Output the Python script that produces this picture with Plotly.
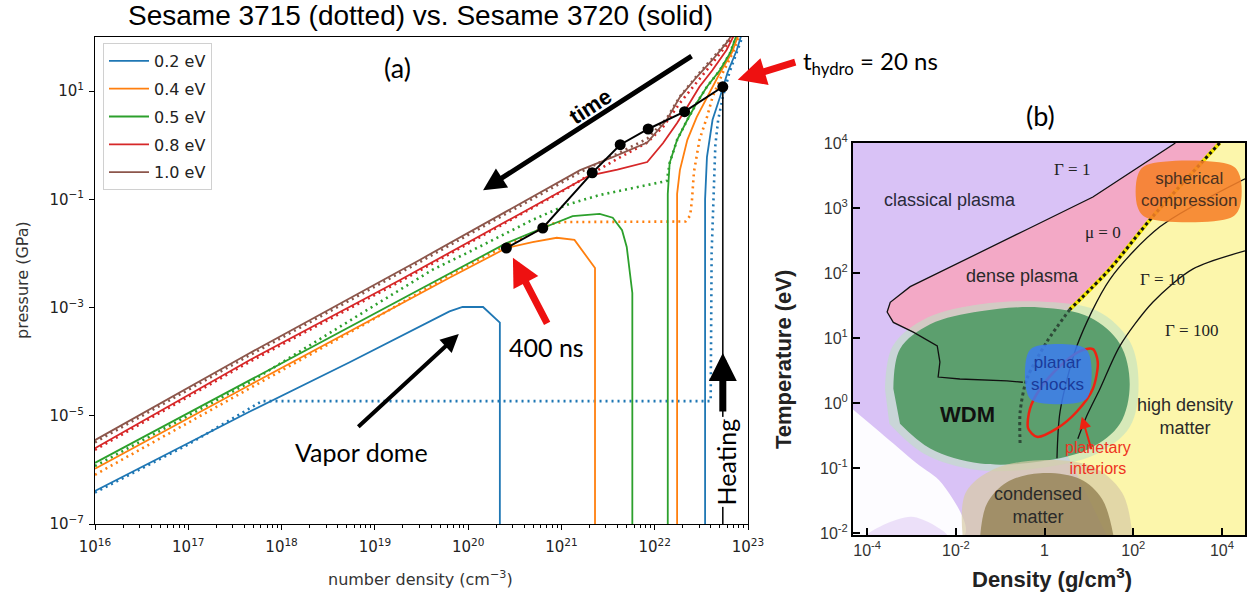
import numpy as np
import plotly.graph_objects as go

W, H = 1248, 596

# ------------------------------------------------------------------
# Panel (a) data : log10 number density (cm^-3) vs log10 pressure (GPa)
# ------------------------------------------------------------------
temps = ["0.2 eV", "0.4 eV", "0.5 eV", "0.8 eV", "1.0 eV"]
colors = ["#1f77b4", "#ff7f0e", "#2ca02c", "#d62728", "#8c564b"]

# Sesame 3720 (solid) - vapour branch and dense branch
t02_gas_n = [16.0, 17.0, 17.66, 18.73, 19.27, 19.6, 19.80, 19.94, 20.16, 20.34, 20.34]
t02_gas_p = [-6.39, -5.50, -4.92, -4.01, -3.54, -3.24, -3.07, -2.99, -2.99, -3.28, -7.5]
t02_liq_n = [22.54, 22.54, 22.56, 22.62, 22.70, 22.78, 22.88, 22.94]
t02_liq_p = [-7.5, -1.0, -0.22, 0.47, 0.89, 1.34, 1.76, 2.1]

t04_gas_n = [16.0, 17.66, 19.80, 20.41, 20.69, 20.95, 21.14, 21.36, 21.36]
t04_gas_p = [-5.98, -4.43, -2.45, -1.90, -1.79, -1.71, -1.75, -2.27, -7.5]
t04_liq_n = [22.24, 22.24, 22.27, 22.35, 22.45, 22.56, 22.70, 22.83, 22.91]
t04_liq_p = [-7.5, -0.9, -0.46, 0.10, 0.52, 0.89, 1.34, 1.72, 2.1]

t05_gas_n = [16.0, 17.66, 20.41, 20.80, 20.95, 21.12, 21.41, 21.55, 21.65, 21.70, 21.76, 21.76]
t05_gas_p = [-5.87, -4.34, -1.81, -1.53, -1.42, -1.31, -1.27, -1.34, -1.57, -1.88, -2.73, -7.5]
t05_liq_n = [22.14, 22.14, 22.16, 22.24, 22.35, 22.45, 22.56, 22.70, 22.81, 22.89]
t05_liq_p = [-7.5, -0.9, -0.33, 0.10, 0.47, 0.78, 1.08, 1.39, 1.71, 2.1]

t08_n = [16.0, 17.66, 19.27, 21.02, 21.30, 21.60, 21.92, 22.09, 22.24, 22.35, 22.48, 22.62, 22.77, 22.87]
t08_p = [-5.60, -3.97, -2.49, -0.83, -0.56, -0.45, -0.31, 0.04, 0.41, 0.71, 1.08, 1.39, 1.76, 2.1]

t10_n = [16.0, 17.66, 19.48, 21.20, 21.55, 21.92, 22.13, 22.27, 22.45, 22.62, 22.77, 22.85]
t10_p = [-5.45, -3.84, -2.12, -0.46, -0.22, 0.05, 0.47, 0.89, 1.26, 1.58, 1.89, 2.1]

# Sesame 3715 (dotted)
d02_n = [16.0, 17.0, 17.79, 22.60, 22.61, 22.63, 22.65, 22.68, 22.73, 22.80, 22.89, 22.96]
d02_p = [-6.42, -5.53, -4.73, -4.73, -2.0, -0.8, 0.0, 0.47, 0.89, 1.34, 1.76, 2.1]

d04_n = [16.0, 17.66, 19.00, 19.80, 20.41, 20.90, 21.02, 22.33, 22.38, 22.40, 22.42, 22.48, 22.56, 22.62, 22.73, 22.84, 22.92]
d04_p = [-6.09, -4.49, -3.20, -2.40, -1.85, -1.45, -1.42, -1.41, -1.30, -1.00, -0.50, 0.10, 0.52, 0.89, 1.34, 1.72, 2.1]

d05_n = [16.0, 17.66, 19.27, 19.62, 19.99, 20.34, 20.69, 21.06, 21.41, 21.77, 22.13, 22.16, 22.24, 22.35, 22.45, 22.56, 22.70, 22.81, 22.89]
d05_p = [-5.93, -4.38, -2.67, -2.30, -1.99, -1.69, -1.38, -1.10, -0.92, -0.79, -0.66, -0.33, 0.10, 0.47, 0.78, 1.08, 1.39, 1.71, 2.1]

d08_n = [16.0, 17.66, 19.27, 21.02, 21.30, 21.60, 21.92, 22.09, 22.27, 22.45, 22.62, 22.77, 22.86]
d08_p = [-5.63, -4.00, -2.52, -0.84, -0.55, -0.25, 0.05, 0.34, 0.78, 1.15, 1.52, 1.85, 2.1]

d10_n = [16.0, 17.66, 19.48, 21.20, 21.55, 21.92, 22.13, 22.27, 22.45, 22.62, 22.77, 22.85]
d10_p = [-5.49, -3.88, -2.16, -0.50, -0.20, 0.12, 0.50, 0.90, 1.28, 1.60, 1.90, 2.1]

# hydro trajectory (400 ns ... 20 ns)
traj_n = [20.41, 20.80, 21.33, 21.63, 21.93, 22.32, 22.73]
traj_p = [-1.90, -1.53, -0.51, 0.01, 0.30, 0.62, 1.08]
heat_n = [22.73, 22.73]
heat_p = [1.08, -7.0]

# ticks (a)
xa_exp = list(range(16, 24))
ya_exp = [-7, -5, -3, -1, 1]

# ------------------------------------------------------------------
# Panel (b) data : log10 density (g/cm3) vs log10 temperature (eV)
# ------------------------------------------------------------------
g1_rho = [2.95, 1.09, -0.40, -1.91, -3.03, -3.48, -3.55, -3.41, -2.96, -2.42, -2.36, -2.40, -1.91, -0.85, -0.49]
g1_T = [4.0, 3.17, 2.67, 2.16, 1.79, 1.55, 1.40, 1.24, 1.09, 0.88, 0.63, 0.40, 0.37, 0.34, 0.32]
mu_top_rho = [3.95, 2.44, 1.47, 0.57]
mu_top_T = [4.0, 2.87, 2.06, 1.44]
mu_low_rho = [0.57, 0.05, -0.40, -0.55, -0.55]
mu_low_T = [1.44, 0.94, 0.37, -0.13, -0.66]
g10_rho = [4.52, 2.60, 1.47, 0.73, 0.35, 0.28]
g10_T = [3.45, 2.71, 1.90, 0.88, -0.13, -0.85]
g100_rho = [4.52, 3.34, 2.44, 1.70, 1.25, 0.95, 0.75]
g100_T = [2.34, 2.06, 1.55, 0.88, 0.22, -0.20, -0.55]
ell_rho = [1.09, 1.20, 1.09, 0.73, 0.28, -0.17, -0.37, -0.33, -0.10, 0.35, 0.80, 1.09]
ell_T = [0.83, 0.63, 0.22, -0.13, -0.39, -0.52, -0.39, -0.09, 0.22, 0.57, 0.80, 0.83]

yel_rho = [3.95, 4.52, 4.52, 1.4, 0.3, 0.05, 0.57, 1.47, 2.44]
yel_T = [4.0, 4.0, -2.03, -2.03, -0.5, 0.94, 1.44, 2.06, 2.87]
pink_rho = [2.95, 1.09, -0.40, -1.91, -3.03, -3.48, -3.55, -3.41, -2.96, -2.42, -1.5, 0.3, 0.57, 1.47, 2.44, 3.95]
pink_T = [4.0, 3.17, 2.67, 2.16, 1.79, 1.55, 1.40, 1.24, 1.09, 0.88, 1.2, 1.2, 1.44, 2.06, 2.87, 4.0]
white_rho = [-4.32, -3.71, -2.90, -2.30, -1.80, -4.32]
white_T = [-0.10, -0.45, -0.92, -1.25, -2.03, -2.03]
lilac_rho = [-4.0, -3.0, -2.2, -2.5, -3.4, -4.0]
lilac_T = [-2.03, -1.75, -2.03, -2.03, -2.03, -2.03]
wdmh_rho = [-3.60, -3.42, -2.65, -1.45, -0.10, 1.18, 1.92, 2.12, 1.92, 1.18, -0.10, -1.52, -2.72, -3.50]
wdmh_T = [0.22, 0.88, 1.31, 1.52, 1.56, 1.42, 0.95, 0.29, -0.37, -0.78, -1.00, -1.03, -0.78, -0.32]
wdm_rho = [-3.41, -3.26, -2.58, -1.45, -0.10, 1.02, 1.70, 1.92, 1.70, 1.02, -0.10, -1.45, -2.58, -3.26]
wdm_T = [0.22, 0.83, 1.21, 1.41, 1.47, 1.32, 0.91, 0.29, -0.32, -0.70, -0.90, -0.93, -0.70, -0.32]
condh_rho = [-1.85, -1.78, -1.15, -0.10, 1.08, 1.75, 1.98]
condh_T = [-2.03, -1.38, -1.02, -0.88, -0.98, -1.38, -2.03]
cond_rho = [-1.45, -1.30, -0.85, -0.10, 0.80, 1.30, 1.55]
cond_T = [-2.03, -1.55, -1.22, -1.08, -1.17, -1.48, -2.03]
sph_rho = [2.10, 2.3, 4.2, 4.40, 4.40, 4.2, 2.3, 2.10, 2.10]
sph_T = [3.50, 3.66, 3.66, 3.50, 3.01, 2.85, 2.85, 3.01, 3.50]
pla_rho = [-0.40, -0.25, 0.87, 1.02, 1.02, 0.87, -0.25, -0.40, -0.40]
pla_T = [0.72, 0.86, 0.86, 0.72, 0.17, 0.03, 0.03, 0.17, 0.72]

xb_exp = [-4, -2, 0, 2, 4]
yb_exp = [-2, -1, 0, 1, 2, 3, 4]


def e(v):
    return np.power(10.0, np.asarray(v, dtype=float))


fig = go.Figure()

# ---------------------------- panel (a) traces ---------------------------
solid_sets = [
    [(t02_gas_n, t02_gas_p), (t02_liq_n, t02_liq_p)],
    [(t04_gas_n, t04_gas_p), (t04_liq_n, t04_liq_p)],
    [(t05_gas_n, t05_gas_p), (t05_liq_n, t05_liq_p)],
    [(t08_n, t08_p)],
    [(t10_n, t10_p)],
]
dotted_sets = [(d02_n, d02_p), (d04_n, d04_p), (d05_n, d05_p), (d08_n, d08_p), (d10_n, d10_p)]

for i, (lab, col) in enumerate(zip(temps, colors)):
    dn, dp = dotted_sets[i]
    fig.add_trace(go.Scatter(x=e(dn), y=e(dp), mode="lines", legendgroup=lab, showlegend=False,
                             line=dict(color=col, width=2.6, dash="2px,4px"), hoverinfo="skip",
                             xaxis="x", yaxis="y"))
for i, (lab, col) in enumerate(zip(temps, colors)):
    for j, (sn, sp) in enumerate(solid_sets[i]):
        fig.add_trace(go.Scatter(x=e(sn), y=e(sp), mode="lines", name=lab, legendgroup=lab,
                                 showlegend=(j == 0), line=dict(color=col, width=1.8),
                                 xaxis="x", yaxis="y"))

fig.add_trace(go.Scatter(x=e(heat_n), y=e(heat_p), mode="lines", showlegend=False,
                         line=dict(color="black", width=1.5), xaxis="x", yaxis="y"))
fig.add_trace(go.Scatter(x=e(traj_n), y=e(traj_p), mode="lines+markers", showlegend=False,
                         line=dict(color="black", width=2), marker=dict(color="black", size=11),
                         xaxis="x", yaxis="y"))

# ---------------------------- panel (b) traces ---------------------------
def region(rx, ry, color, spline=False):
    fig.add_trace(go.Scatter(x=e(rx), y=e(ry), mode="lines", fill="toself", fillcolor=color,
                             line=dict(width=0, shape="spline" if spline else "linear", smoothing=1.0),
                             showlegend=False, hoverinfo="skip", xaxis="x2", yaxis="y2"))


def curve(rx, ry, color, width, dash="solid", spline=True):
    fig.add_trace(go.Scatter(x=e(rx), y=e(ry), mode="lines",
                             line=dict(color=color, width=width, dash=dash,
                                       shape="spline" if spline else "linear", smoothing=0.8),
                             showlegend=False, hoverinfo="skip", xaxis="x2", yaxis="y2"))


region(yel_rho, yel_T, "#fcf6ab")
region(pink_rho, pink_T, "#f3a9c6")
region(white_rho, white_T, "rgba(255,255,255,0.95)", spline=True)
region(lilac_rho, lilac_T, "rgba(225,205,245,0.6)", spline=True)
region(wdmh_rho, wdmh_T, "rgba(190,225,195,0.6)", spline=True)
region(wdm_rho, wdm_T, "#5c9f6e", spline=True)
region(condh_rho, condh_T, "rgba(215,203,165,0.7)", spline=True)
region(cond_rho, cond_T, "rgba(145,127,80,0.78)", spline=True)

curve(g1_rho, g1_T, "#111111", 1.3, spline=False)
curve(mu_top_rho, mu_top_T, "#f2e600", 4, spline=True)
curve(mu_top_rho, mu_top_T, "#111111", 3, dash="3px,3px", spline=True)
curve(mu_low_rho, mu_low_T, "#2e4a38", 3, dash="3px,3px", spline=True)
curve(g10_rho, g10_T, "#111111", 1.3)
curve(g100_rho, g100_T, "#111111", 1.3)
curve(ell_rho, ell_T, "#ee2211", 2.5)

region(sph_rho, sph_T, "rgba(246,128,40,0.88)", spline=True)
region(pla_rho, pla_T, "rgba(60,125,240,0.85)", spline=True)

# ------------------------------ layout -----------------------------------
def px(x):
    return x / W


def py(y):
    return 1 - y / H


axis_font = dict(family="DejaVu Sans", size=15, color="#222")
sup_minus = "\u2212"

fig.update_layout(
    width=W, height=H, autosize=False,
    margin=dict(l=0, r=0, t=0, b=0, pad=0, autoexpand=False),
    paper_bgcolor="white", plot_bgcolor="white",
    showlegend=True,
    legend=dict(x=px(103), y=py(43), xanchor="left", yanchor="top",
                bgcolor="white", bordercolor="#d0d0d0", borderwidth=1,
                font=dict(family="DejaVu Sans", size=16, color="#222"),
                tracegroupgap=4, itemwidth=40),
    xaxis=dict(type="log", range=[16, 23], domain=[px(95), px(748)], anchor="y", automargin=False,
               showline=True, mirror=True, linecolor="black", linewidth=1,
               ticks="outside", ticklen=5, tickcolor="black", showgrid=False, zeroline=False,
               tickvals=e(xa_exp), ticktext=["10<sup>%d</sup>" % k for k in xa_exp],
               tickfont=axis_font, ticklabelstandoff=4,
               minor=dict(ticks="outside", ticklen=3, tickcolor="black", dtick="D1", showgrid=False)),
    yaxis=dict(type="log", range=[-7, 2], domain=[py(524), py(37)], anchor="x", automargin=False,
               showline=True, mirror=True, linecolor="black", linewidth=1,
               ticks="outside", ticklen=5, tickcolor="black", showgrid=False, zeroline=False,
               tickvals=e(ya_exp),
               ticktext=["10<sup>%s</sup>" % (str(k).replace("-", sup_minus)) for k in ya_exp],
               tickfont=axis_font, ticklabelstandoff=2),
    xaxis2=dict(type="log", range=[-4.32, 4.52], domain=[px(853), px(1245)], anchor="y2", automargin=False,
                showline=True, mirror=True, linecolor="black", linewidth=2,
                ticks="inside", ticklen=7, tickwidth=2, tickcolor="black",
                showgrid=False, zeroline=False,
                tickvals=e(xb_exp),
                ticktext=["1" if k == 0 else "10<sup>%d</sup>" % k for k in xb_exp],
                tickfont=dict(family="Liberation Sans", size=16, color="#333")),
    yaxis2=dict(type="log", range=[-2.03, 4.0], domain=[py(535), py(143)], anchor="x2", automargin=False,
                showline=True, mirror=True, linecolor="black", linewidth=2,
                ticks="inside", ticklen=7, tickwidth=2, tickcolor="black",
                showgrid=False, zeroline=False,
                tickvals=e(yb_exp), ticktext=["10<sup>%d</sup>" % k for k in yb_exp],
                tickfont=dict(family="Liberation Sans", size=16, color="#333")),
    shapes=[dict(type="rect", xref="x2 domain", yref="y2 domain", x0=0, x1=1, y0=0, y1=1,
                 fillcolor="#d9c2f6", line=dict(width=0), layer="below")],
)

ann = []
cal = "Lato"


def pa(x, y, text, size, fam, color="black", angle=0, bold=False):
    ann.append(dict(xref="paper", yref="paper", x=px(x), y=py(y), xanchor="center", yanchor="middle",
                    text=("<b>%s</b>" % text) if bold else text, showarrow=False, textangle=angle,
                    font=dict(family=fam, size=size, color=color)))


# titles / axis labels
pa(420, 16, "Sesame 3715 (dotted) vs. Sesame 3720 (solid)", 28, "Liberation Sans")
pa(22, 280, "pressure (GPa)", 16, "DejaVu Sans", color="#333", angle=-90)
pa(420, 578, "number density (cm<sup>\u22123</sup>)", 16, "DejaVu Sans", color="#333")
pa(783, 360, "Temperature (eV)", 22, "Liberation Sans", color="#222", angle=-90, bold=True)
pa(1052, 578, "Density (g/cm<sup>3</sup>)", 22, "Liberation Sans", color="#222", bold=True)
pa(1040, 115, "(b)", 27, cal)
pa(870, 62, "t<sub>hydro</sub> = 20 ns", 24, cal)


def at(x, y, text, size=20, color="black", angle=0, fam=cal, bg=None, ref=("x", "y")):
    d = dict(xref=ref[0], yref=ref[1], x=x, y=y, text=text, showarrow=False, textangle=angle,
             xanchor="center", yanchor="middle", font=dict(family=fam, size=size, color=color))
    if bg:
        d["bgcolor"] = bg
    ann.append(d)


def arrow(x, y, axp, ayp, color, width, ref=("x", "y"), size=1.0):
    ann.append(dict(xref=ref[0], yref=ref[1], x=x, y=y, ax=axp, ay=ayp, text="", showarrow=True,
                    arrowhead=2, arrowsize=size, arrowwidth=width, arrowcolor=color, standoff=0))


# panel (a) annotations (log10 data coords)
at(19.24, 1.43, "(a)", size=27)
at(21.31, 0.71, "<b>time</b>", size=22, angle=-33, fam="Liberation Sans")
at(20.84, -3.73, "400 ns", size=25)
at(18.86, -5.67, "Vapor dome", size=25)
at(22.76, -5.85, "Heating", size=25, angle=-90, bg="white")
arrow(20.16, -0.83, 210, -135, "black", 5, size=0.9)
arrow(19.90, -3.49, -102, 94, "black", 4, size=0.9)
arrow(20.48, -2.08, 35, 67, "#ee1111", 7, size=0.8)
arrow(22.89, 1.21, 59, -18, "#ee1111", 7, size=0.8)
arrow(22.73, -3.84, 0, 60, "black", 7, size=0.8)

# panel (b) annotations
rb = ("x2", "y2")
at(-2.13, 3.13, "classical plasma", size=18, color="#2a2a3a", fam="Liberation Sans", ref=rb)
at(0.62, 3.59, "\u0393 = 1", size=17, color="#222", fam="Liberation Serif", ref=rb)
at(1.32, 2.62, "\u03bc = 0", size=17, color="#222", fam="Liberation Serif", ref=rb)
at(-0.49, 1.95, "dense plasma", size=18, color="#2a2a2a", fam="Liberation Sans", ref=rb)
at(2.67, 1.90, "\u0393 = 10", size=17, color="#222", fam="Liberation Serif", ref=rb)
at(3.32, 1.11, "\u0393 = 100", size=17, color="#222", fam="Liberation Serif", ref=rb)
at(3.25, 3.28, "spherical<br>compression", size=17, color="#4a3020", fam="Liberation Sans", ref=rb)
at(0.30, 0.45, "planar<br>shocks", size=17, color="#1a3a9a", fam="Liberation Sans", ref=rb)
at(-1.73, -0.17, "<b>WDM</b>", size=22, color="#111", fam="Liberation Sans", ref=rb)
at(3.16, -0.21, "high density<br>matter", size=18, color="#2a2a2a", fam="Liberation Sans", ref=rb)
at(1.20, -0.85, "planetary<br>interiors", size=16, color="#ee3322", fam="Liberation Sans", ref=rb)
at(-0.15, -1.57, "condensed<br>matter", size=18, color="#2a2a2a", fam="Liberation Sans", ref=rb)
arrow(0.84, -0.21, 10, 34, "#ee2211", 2, ref=rb, size=1.2)

fig.update_layout(annotations=ann)
fig.write_html("out.html")
